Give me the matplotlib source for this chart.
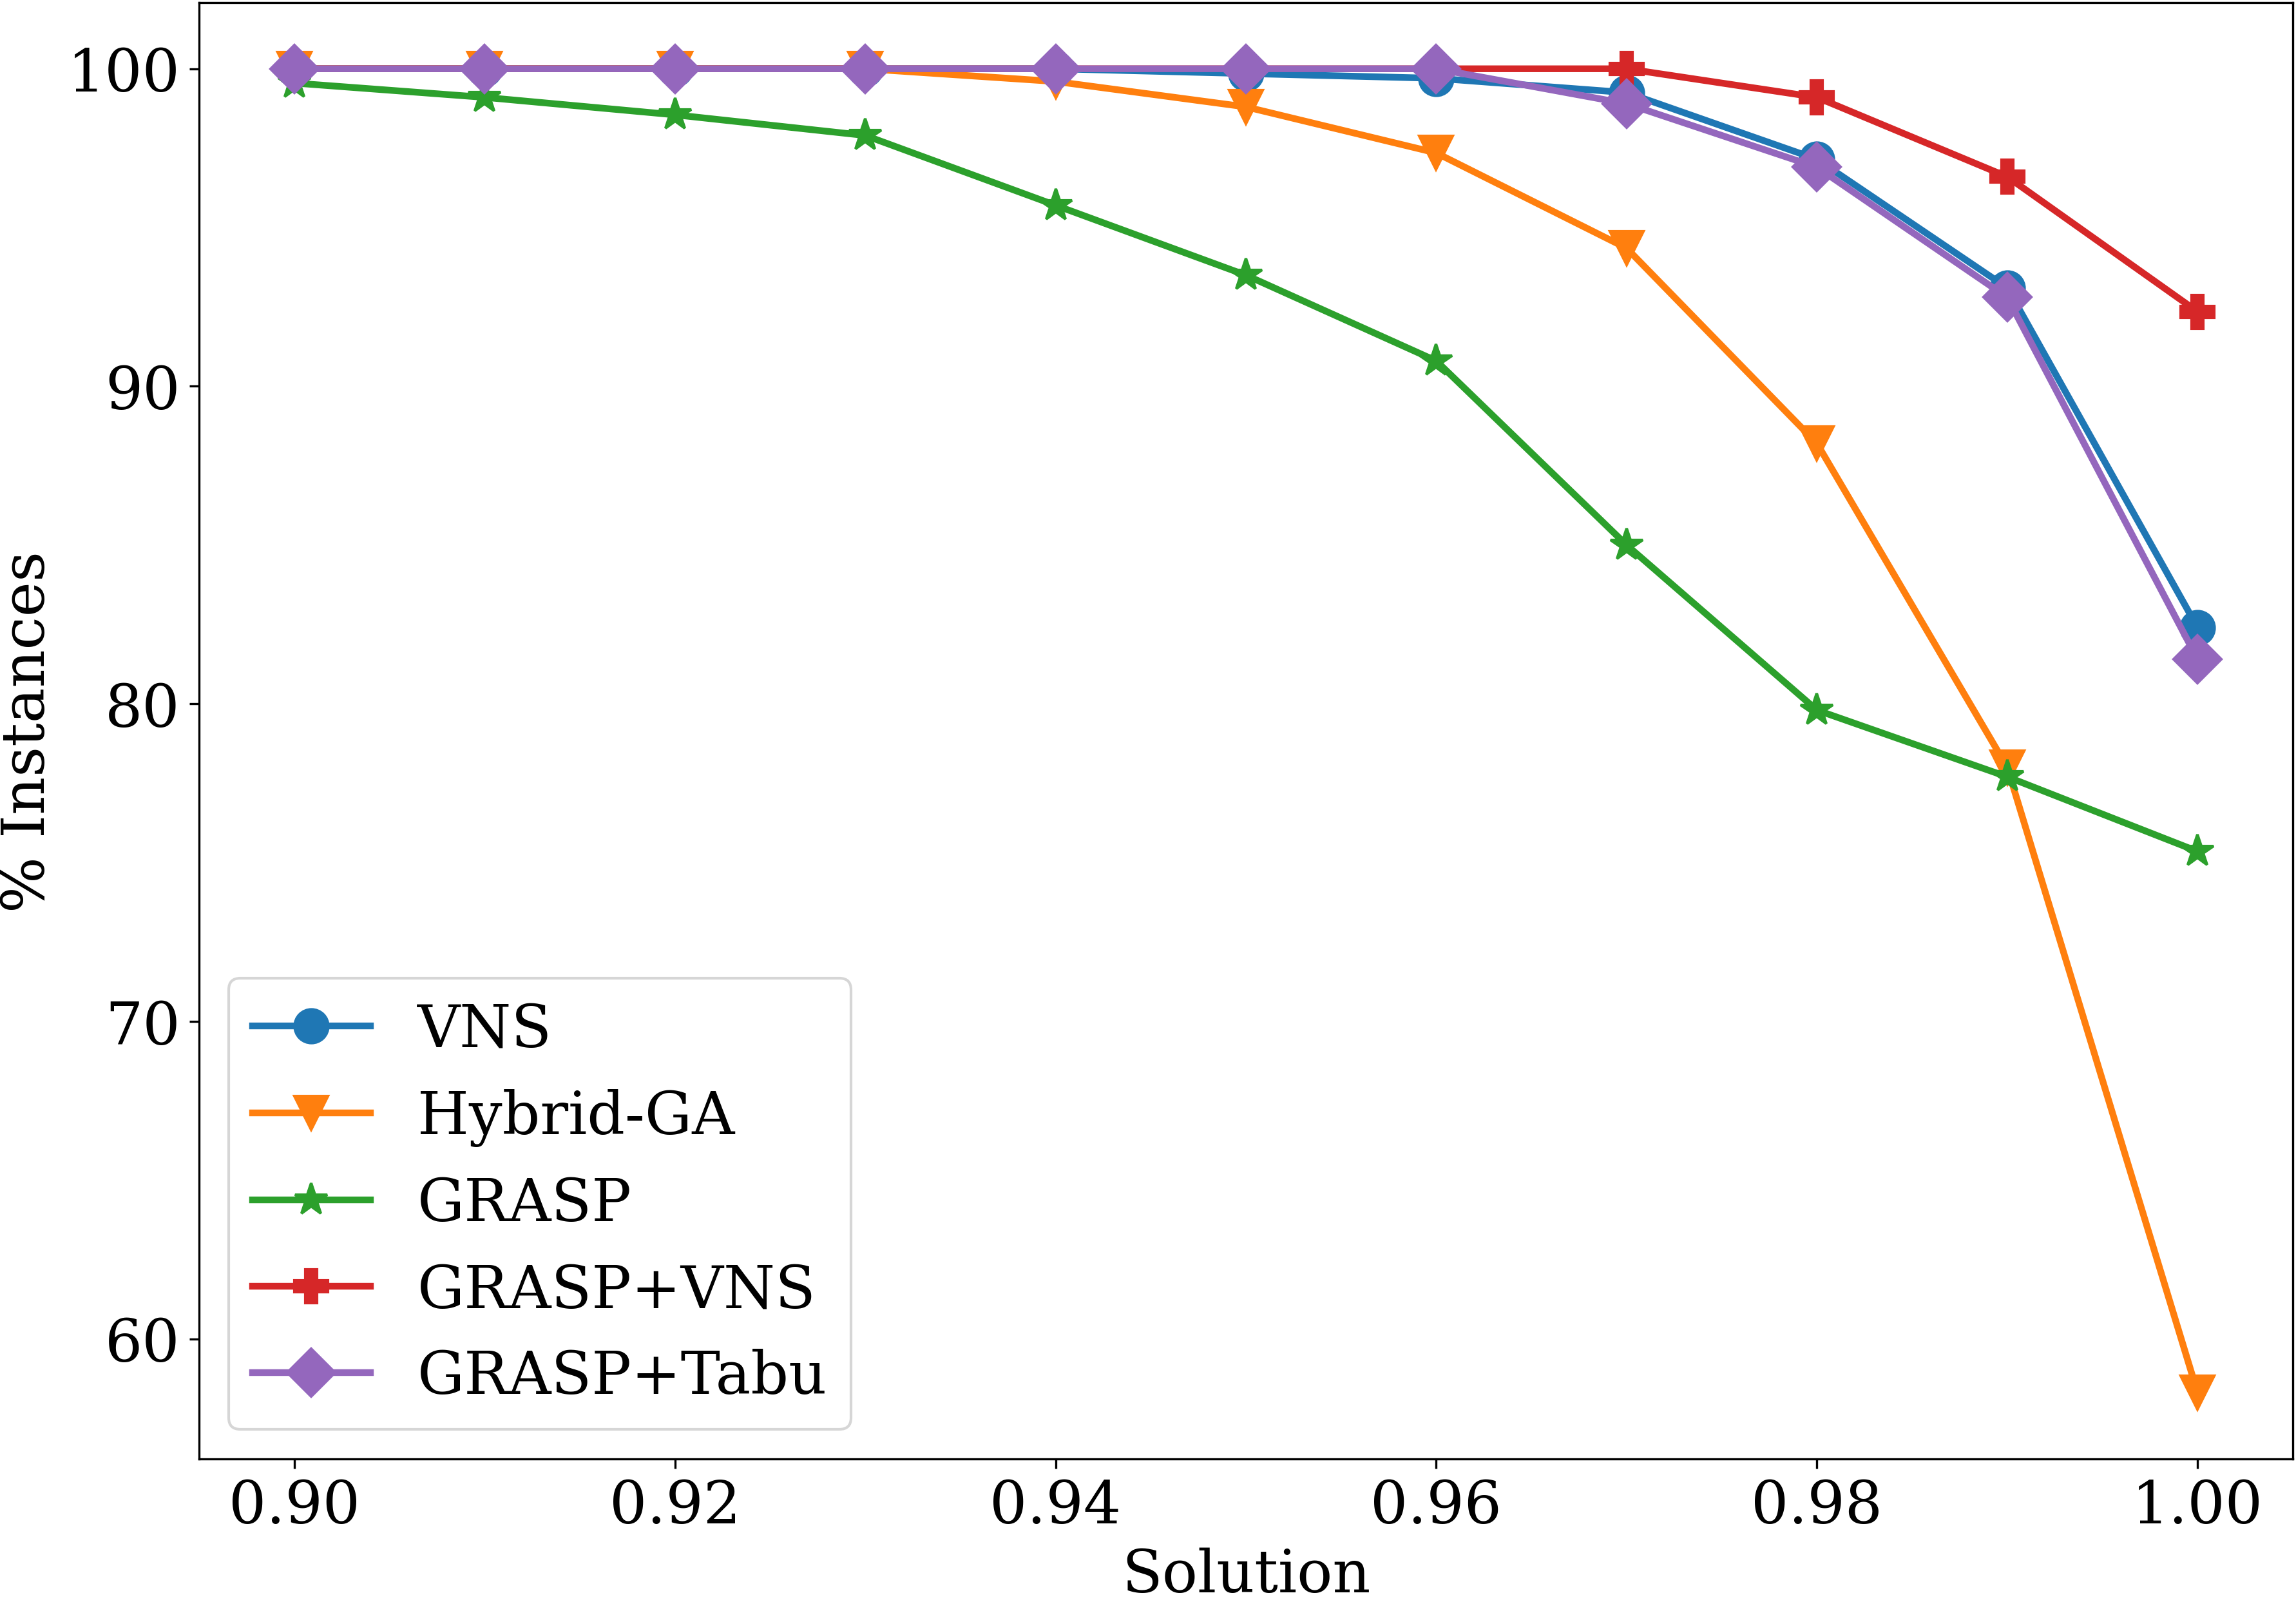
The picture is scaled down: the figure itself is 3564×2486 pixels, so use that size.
import matplotlib
matplotlib.use("Agg")
import matplotlib.pyplot as plt

solution = [0.90, 0.91, 0.92, 0.93, 0.94, 0.95, 0.96, 0.97, 0.98, 0.99, 1.00]
vns = [100, 100, 100, 100, 100, 99.85, 99.7, 99.25, 97.15, 93.1, 82.4]
hybrid_ga = [100, 100, 100, 100, 99.6, 98.8, 97.35, 94.35, 88.2, 78.0, 58.3]
grasp = [99.55, 99.1, 98.55, 97.9, 95.7, 93.5, 90.8, 85.0, 79.8, 77.7, 75.35]
grasp_vns = [100, 100, 100, 100, 100, 100, 100, 100, 99.1, 96.6, 92.35]
grasp_tabu = [100, 100, 100, 100, 100, 100, 100, 98.9, 96.9, 92.8, 81.4]

series = [
    ("VNS", vns, "o", "#1f77b4", 12.5),
    ("Hybrid-GA", hybrid_ga, "v", "#ff7f0e", 12.5),
    ("GRASP", grasp, "*", "#2ca02c", 12.5),
    ("GRASP+VNS", grasp_vns, "P", "#d62728", 12.5),
    ("GRASP+Tabu", grasp_tabu, "D", "#9467bd", 12.5),
]

W, H = 3564, 2487
plt.rcParams['font.family'] = ['DejaVu Serif']
fig = plt.figure(figsize=(W / 300, H / 300), dpi=300)
ax = fig.add_axes([309 / W, 1 - 2265 / H, (3559 - 309) / W, (2265 - 5) / H])

for name, vals, mk, col, ms in series:
    ax.plot(solution, vals, marker=mk, color=col, label=name, linewidth=2.5, markersize=ms)

ax.set_xlabel("Solution", fontsize=22, va="baseline")
ax.xaxis.set_label_coords(0.5, -(2471 - 2265) / (2265 - 5))
ax.set_ylabel("% Instances", fontsize=22)
ax.tick_params(labelsize=22)
ax.set_xticks([0.90, 0.92, 0.94, 0.96, 0.98, 1.00])
ax.set_yticks([60, 70, 80, 90, 100])
ax.legend(loc="lower left", fontsize=22)

fig.savefig("out.png", dpi=300, bbox_inches=None)
